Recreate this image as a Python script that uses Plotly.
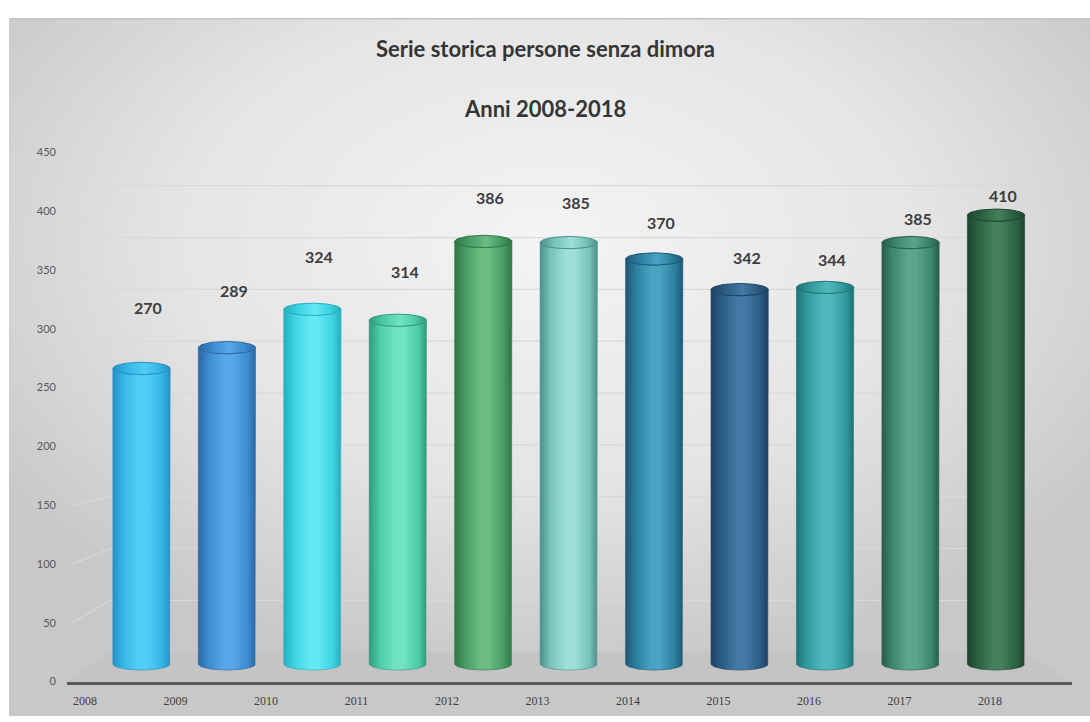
import base64
import numpy as np
import plotly.graph_objects as go

W, H = 1090, 722

# ---- data -------------------------------------------------------------
years = ["2008", "2009", "2010", "2011", "2012", "2013",
         "2014", "2015", "2016", "2017", "2018"]
values = [270, 289, 324, 314, 386, 385, 370, 342, 344, 385, 410]
y_ticks = [0, 50, 100, 150, 200, 250, 300, 350, 400, 450]

# cylinder shading per year: (edge, body, highlight)
palette = [
    ("#2590c2", "#36b6e6", "#52cdf6"),
    ("#2a68a6", "#3d8bd0", "#58a7e8"),
    ("#26aebd", "#3cd3e2", "#62e9f4"),
    ("#32997d", "#4ccca6", "#72e3c2"),
    ("#2e7646", "#479b63", "#6cbc83"),
    ("#4d8f8a", "#77c3bc", "#9edfd9"),
    ("#1d5874", "#2b7f9f", "#4aa3c2"),
    ("#1d4262", "#2b5c84", "#4379a4"),
    ("#207176", "#309a9f", "#50b9bd"),
    ("#285c4d", "#3c8670", "#5da58e"),
    ("#1d432f", "#2b6142", "#44805b"),
]

TEXT = "#3d3d3d"

# ---- pixel geometry of the pseudo-3D frame -----------------------------
def fx(p):
    return p / W


def fy(p):
    return 1 - p / H


FRONT_LEFT, FRONT_RIGHT = 67, 1072     # front edge of the floor / axis line
FRONT_ZERO, FRONT_TOP = 687, 148       # value axis: 0 and 450
BACK_LEFT, BACK_RIGHT = 110, 1025      # back wall
BACK_ZERO, BACK_TOP = 657, 182
CAT_FIRST, CAT_STEP = 85, 90.5         # category labels on the front edge
BAR_FIRST, BAR_STEP = 141.5, 85.45     # cylinder centres (further back)
BAR_ZERO, BAR_PPU = 669, 1.1146        # cylinder base and pixels per unit
YMAX = 450


def front_y(v):
    return FRONT_ZERO - v * (FRONT_ZERO - FRONT_TOP) / YMAX


def back_y(v):
    return BACK_ZERO - v * (BACK_ZERO - BACK_TOP) / YMAX


fig = go.Figure()

# front axis (category and value labels)
fig.add_trace(go.Scatter(x=[], y=[], xaxis="x", yaxis="y", showlegend=False,
                         hoverinfo="skip"))

# ---- cylinders ---------------------------------------------------------
HALF_W = 0.335
RY = 5.6
t_front = np.linspace(np.pi, 2 * np.pi, 48)
t_full = np.linspace(0, 2 * np.pi, 96)

for i, (v, (edge, body, hi)) in enumerate(zip(values, palette)):
    scale = [[0, edge], [0.18, body], [0.45, hi], [0.6, hi],
             [0.86, body], [1, edge]]
    bx = np.concatenate([[i - HALF_W],
                         i + HALF_W * np.cos(t_front),
                         i + HALF_W * np.cos(t_front[::-1])])
    by = np.concatenate([[0],
                         v + RY * np.sin(t_front),
                         RY * np.sin(t_front[::-1])])
    fig.add_trace(go.Scatter(
        x=bx, y=by, xaxis="x2", yaxis="y2", mode="lines",
        fill="toself", line=dict(color=edge, width=0.6),
        fillgradient=dict(type="horizontal", colorscale=scale),
        showlegend=False, hoverinfo="skip"))
    cap_scale = [[0, edge], [0.25, body], [0.55, hi], [0.8, body], [1, edge]]
    fig.add_trace(go.Scatter(
        x=i + HALF_W * np.cos(t_full), y=v + RY * np.sin(t_full),
        xaxis="x2", yaxis="y2", mode="lines", fill="toself",
        line=dict(color=edge, width=1),
        fillgradient=dict(type="horizontal", colorscale=cap_scale),
        showlegend=False, hoverinfo="skip"))

# ---- value labels ------------------------------------------------------
annotations = []
for i, v in enumerate(values):
    annotations.append(dict(
        x=i, y=v, xref="x2", yref="y2", text=str(v), showarrow=False,
        xshift=7, yshift=61 - 4.15 * i, yanchor="middle",
        font=dict(family="Lato", size=16, color=TEXT, weight="bold")))

annotations += [
    dict(x=0.5, y=fy(42), xref="paper", yref="paper", showarrow=False,
         text="Serie storica persone senza dimora", yanchor="middle",
         font=dict(family="Lato", size=22, color="#353535", weight="bold")),
    dict(x=0.5, y=fy(103), xref="paper", yref="paper", showarrow=False,
         text="Anni 2008-2018", yanchor="middle",
         font=dict(family="Lato", size=22, color="#353535", weight="bold")),
]

# ---- floor, walls and gridlines ---------------------------------------
shapes = [
    dict(type="line", xref="paper", yref="paper", layer="below",
         x0=fx(9), x1=1, y0=fy(12), y1=fy(12),
         line=dict(color="#c4c4c4", width=1.5)),
    dict(type="path", xref="paper", yref="paper", layer="below",
         path=(f"M {fx(FRONT_LEFT)} {fy(FRONT_ZERO)} "
               f"L {fx(BACK_LEFT)} {fy(BACK_ZERO)} "
               f"L {fx(BACK_RIGHT)} {fy(BACK_ZERO)} "
               f"L {fx(FRONT_RIGHT)} {fy(FRONT_ZERO)} Z"),
         fillcolor="#c4c4c4", line=dict(width=0)),
]
for v in y_ticks[1:]:
    shapes.append(dict(
        type="path", xref="paper", yref="paper", layer="below",
        path=(f"M {fx(FRONT_LEFT + 6)} {fy(front_y(v))} "
              f"L {fx(BACK_LEFT)} {fy(back_y(v))} "
              f"L {fx(BACK_RIGHT)} {fy(back_y(v))}"),
        line=dict(color="#d9d9d9", width=1.2)))

# ---- background --------------------------------------------------------
bg_svg = (
    f'<svg xmlns="http://www.w3.org/2000/svg" width="{W}" height="{H}" '
    f'viewBox="0 0 {W} {H}" preserveAspectRatio="none"><defs>'
    '<radialGradient id="g" cx="0.5" cy="0.32" r="0.62">'
    '<stop offset="0" stop-color="#f4f4f4"/>'
    '<stop offset="0.55" stop-color="#e5e5e5"/>'
    '<stop offset="1" stop-color="#c8c8c8"/>'
    '</radialGradient></defs>'
    '<rect width="100%" height="100%" fill="url(#g)"/></svg>')
bg_src = "data:image/svg+xml;base64," + base64.b64encode(bg_svg.encode()).decode()

# ---- axes --------------------------------------------------------------
x_lo = -(CAT_FIRST - FRONT_LEFT) / CAT_STEP
x_hi = (len(years) - 1) + (FRONT_RIGHT - (CAT_FIRST + CAT_STEP * (len(years) - 1))) / CAT_STEP

y2_lo = -12
bar_lo_px = BAR_ZERO - y2_lo * BAR_PPU
bar_hi_px = BAR_ZERO - YMAX * BAR_PPU

fig.update_layout(
    width=W, height=H, margin=dict(l=0, r=0, t=0, b=0),
    paper_bgcolor="white", plot_bgcolor="rgba(0,0,0,0)",
    showlegend=False,
    images=[dict(source=bg_src, xref="paper", yref="paper",
                 x=fx(9), y=fy(12), sizex=1 - fx(9), sizey=fy(12),
                 xanchor="left", yanchor="top", sizing="stretch",
                 layer="below")],
    xaxis=dict(domain=[fx(FRONT_LEFT), fx(FRONT_RIGHT)], range=[x_lo, x_hi],
               anchor="y", tickmode="array",
               tickvals=list(range(len(years))), ticktext=years,
               showgrid=False, zeroline=False, showline=True,
               linecolor="#5a5a5a", linewidth=2.5, ticks="",
               ticklabelstandoff=6,
               tickfont=dict(family="Liberation Serif", size=12, color=TEXT),
               fixedrange=True),
    yaxis=dict(domain=[fy(FRONT_ZERO), fy(FRONT_TOP)], range=[0, YMAX],
               anchor="x", tickmode="array", tickvals=y_ticks,
               showgrid=False, zeroline=False, showline=False, ticks="",
               ticklabelstandoff=10,
               tickfont=dict(family="Lato", size=11, color="#595959"),
               fixedrange=True),
    xaxis2=dict(domain=[fx(BAR_FIRST - 0.5 * BAR_STEP),
                        fx(BAR_FIRST + 10.5 * BAR_STEP)],
                range=[-0.5, 10.5], anchor="y2", visible=False,
                fixedrange=True),
    yaxis2=dict(domain=[fy(bar_lo_px), fy(bar_hi_px)], range=[y2_lo, YMAX],
                anchor="x2", visible=False, fixedrange=True),
    annotations=annotations,
    shapes=shapes,
)

fig.write_html("out.html")
